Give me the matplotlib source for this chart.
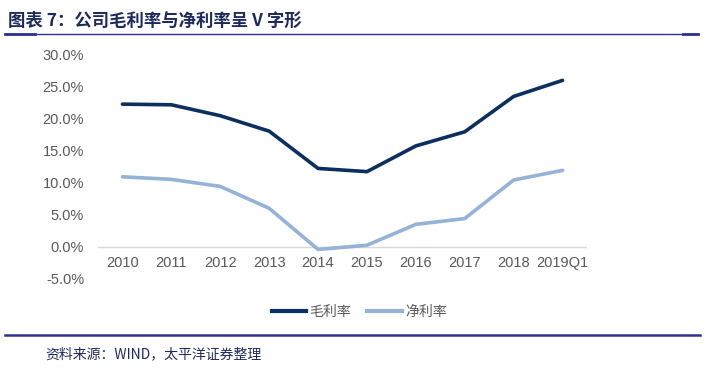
import matplotlib.pyplot as plt
from matplotlib.lines import Line2D
from matplotlib.ticker import FuncFormatter

plt.rcParams["font.family"] = ["Liberation Sans", "Noto Sans CJK SC", "DejaVu Sans"]

# data (percent)
years = ["2010", "2011", "2012", "2013", "2014", "2015", "2016", "2017", "2018", "2019Q1"]
gross_margin = [22.2, 22.1, 20.4, 18.0, 12.2, 11.7, 15.7, 17.9, 23.4, 25.9]
net_margin = [10.9, 10.5, 9.4, 6.0, -0.4, 0.25, 3.5, 4.4, 10.4, 11.9]

W, H = 705, 368
fig = plt.figure(figsize=(W / 100, H / 100), dpi=100)

# plot area in pixels: x 98..587, y 54 (30%) .. 279 (-5%)
ax = fig.add_axes([98 / W, 1 - 279 / H, (587 - 98) / W, (279 - 54) / H])
x = list(range(len(years)))
ax.plot(x, gross_margin, color="#0B2F5E", lw=2.6, solid_capstyle="round", label="毛利率")
ax.plot(x, net_margin, color="#95B3D7", lw=2.6, solid_capstyle="round", label="净利率")
ax.axhline(0, color="#D9D9D9", lw=1, zorder=0)

ax.set_xlim(-0.5, len(years) - 0.5)
ax.set_ylim(-5, 30)
ax.set_yticks([-5, 0, 5, 10, 15, 20, 25, 30])
ax.yaxis.set_major_formatter(FuncFormatter(lambda v, p: "%.1f%%" % v))
ax.set_xticks([])
for s in ax.spines.values():
    s.set_visible(False)
ax.tick_params(axis="y", length=0, pad=10, labelsize=10.5, labelcolor="#595959")

# category labels sit just below the zero line
for i, lab in enumerate(years):
    ax.text(i, -1.4, lab, ha="center", va="top", fontsize=10.5, color="#595959")

# legend
handles = [Line2D([], [], color="#0B2F5E", lw=3), Line2D([], [], color="#95B3D7", lw=3)]
fig.legend(handles, ["毛利率", "净利率"], loc="center", bbox_to_anchor=(359 / W, 1 - 312 / H),
           ncol=2, frameon=False, handlelength=2.5, handletextpad=0.2,
           columnspacing=1.2, labelcolor="#595959", prop={"family": ["Noto Sans CJK SC"], "size": 10})

# header and footer
fig.text(8 / W, 1 - 21 / H, "图表 7：公司毛利率与净利率呈 V 字形", ha="left", va="center",
         fontsize=12.5, fontweight="bold", color="#1F2A5C", family=["Noto Sans CJK SC"])
fig.add_artist(Line2D([5 / W, 698 / W], [1 - 34 / H] * 2, color="#2E3192", lw=1))
fig.add_artist(Line2D([5 / W, 35 / W], [1 - 34 / H] * 2, color="#2E3192", lw=2))
fig.add_artist(Line2D([683 / W, 698 / W], [1 - 34 / H] * 2, color="#2E3192", lw=2))
fig.add_artist(Line2D([5 / W, 700 / W], [1 - 335 / H] * 2, color="#2E3192", lw=1.8))
fig.text(45 / W, 1 - 354 / H, "资料来源：WIND，太平洋证券整理", ha="left", va="center",
         fontsize=10, color="#1F2A5C", family=["Noto Sans CJK SC"])

fig.savefig("out.png", dpi=100)
